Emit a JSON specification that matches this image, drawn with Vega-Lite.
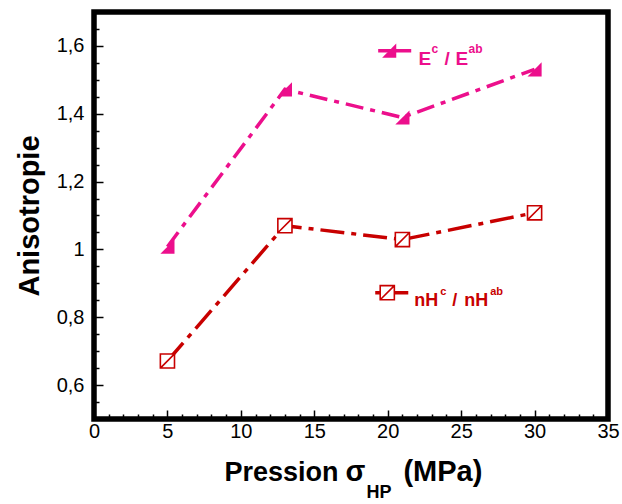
{
  "$schema": "https://vega.github.io/schema/vega-lite/v6.json",
  "width": 514,
  "height": 407,
  "autosize": {"type": "none"},
  "padding": {"left": 94, "top": 12, "right": 14, "bottom": 85},
  "config": {
    "view": {"stroke": "#000000", "strokeWidth": 5.5},
    "font": "Liberation Sans",
    "text": {"font": "Liberation Sans"}
  },
  "datasets": {
    "curves": [
      {"serie": "E", "p": 5, "a": 1.008},
      {"serie": "E", "p": 13, "a": 1.472},
      {"serie": "E", "p": 21, "a": 1.389},
      {"serie": "E", "p": 30, "a": 1.531},
      {"serie": "nH", "p": 5, "a": 0.671},
      {"serie": "nH", "p": 13, "a": 1.07},
      {"serie": "nH", "p": 21, "a": 1.029},
      {"serie": "nH", "p": 30, "a": 1.108}
    ],
    "legendLines": [
      {"serie": "E", "p": 19.35, "a": 1.586},
      {"serie": "E", "p": 21.6, "a": 1.586},
      {"serie": "nH", "p": 19.15, "a": 0.8725},
      {"serie": "nH", "p": 21.4, "a": 0.8725}
    ],
    "legendMarks": [
      {"serie": "E", "p": 20.1, "a": 1.586},
      {"serie": "nH", "p": 19.97, "a": 0.8725}
    ],
    "labels": [
      {"serie": "E", "p": 22.1, "a": 1.544},
      {"serie": "nH", "p": 21.8, "a": 0.834}
    ],
    "xtitle": [
      {"p": 8.88, "a": 0.317}
    ]
  },
  "encoding": {
    "x": {
      "field": "p", "type": "quantitative",
      "scale": {"domain": [0, 35], "nice": false, "zero": false},
      "axis": {
        "values": [0,1,2,3,4,5,6,7,8,9,10,11,12,13,14,15,16,17,18,19,20,21,22,23,24,25,26,27,28,29,30,31,32,33,34,35],
        "labelExpr": "datum.value % 5 === 0 ? datum.label : ''",
        "tickSize": {"condition": {"test": "datum.value % 5 === 0", "value": -9}, "value": -5},
        "tickColor": "#000000", "tickWidth": 1.5,
        "domain": false, "grid": false,
        "labelFontSize": 20, "labelColor": "#000000", "labelFont": "Liberation Sans",
        "labelPadding": 11, "labelOverlap": false, "labelFlush": false,
        "title": null
      }
    },
    "y": {
      "field": "a", "type": "quantitative",
      "scale": {"domain": [0.5, 1.7], "nice": false, "zero": false},
      "axis": {
        "values": [0.5,0.55,0.6,0.65,0.7,0.75,0.8,0.85,0.9,0.95,1,1.05,1.1,1.15,1.2,1.25,1.3,1.35,1.4,1.45,1.5,1.55,1.6,1.65,1.7],
        "labelExpr": "round(datum.value * 100) % 20 === 0 ? replace(format(datum.value, '~g'), '.', ',') : ''",
        "tickSize": {"condition": {"test": "round(datum.value * 100) % 20 === 0", "value": -9}, "value": -5},
        "tickColor": "#000000", "tickWidth": 1.5,
        "domain": false, "grid": false,
        "labelFontSize": 20, "labelColor": "#000000", "labelFont": "Liberation Sans",
        "labelPadding": 19, "labelOverlap": false, "labelFlush": false,
        "title": "Anisotropie",
        "titleFontSize": 29, "titleFontWeight": "bold", "titleColor": "#000000",
        "titleFont": "Liberation Sans", "titlePadding": 12
      }
    }
  },
  "layer": [
    {
      "data": {"name": "curves"},
      "transform": [{"filter": "datum.serie === 'E'"}],
      "mark": {"type": "line", "color": "#EC0F8C", "strokeWidth": 3.5, "strokeDash": [18, 7, 5, 7]}
    },
    {
      "data": {"name": "curves"},
      "transform": [{"filter": "datum.serie === 'nH'"}],
      "mark": {"type": "line", "color": "#C80000", "strokeWidth": 3.5, "strokeDash": [24, 7, 5, 7]}
    },
    {
      "data": {"name": "curves"},
      "transform": [{"filter": "datum.serie === 'E'"}],
      "mark": {"type": "point", "shape": "M1,-1L1,1L-1,1Z", "filled": true, "color": "#EC0F8C", "size": 200, "opacity": 1}
    },
    {
      "data": {"name": "curves"},
      "transform": [{"filter": "datum.serie === 'nH'"}],
      "mark": {"type": "point", "shape": "M-1,-1L1,-1L1,1L-1,1Z M-1,1L1,-1", "fill": "#ffffff", "stroke": "#C80000", "strokeWidth": 1.6, "size": 200, "opacity": 1, "fillOpacity": 1}
    },
    {
      "data": {"name": "legendLines"},
      "mark": {"type": "line", "strokeWidth": 3.5},
      "encoding": {
        "color": {"field": "serie", "type": "nominal", "scale": {"domain": ["E", "nH"], "range": ["#EC0F8C", "#C80000"]}, "legend": null}
      }
    },
    {
      "data": {"name": "legendMarks"},
      "transform": [{"filter": "datum.serie === 'E'"}],
      "mark": {"type": "point", "shape": "M1,-1L1,1L-1,1Z", "filled": true, "color": "#EC0F8C", "size": 200, "opacity": 1}
    },
    {
      "data": {"name": "legendMarks"},
      "transform": [{"filter": "datum.serie === 'nH'"}],
      "mark": {"type": "point", "shape": "M-1,-1L1,-1L1,1L-1,1Z M-1,1L1,-1", "fill": "#ffffff", "stroke": "#C80000", "strokeWidth": 1.6, "size": 200, "opacity": 1, "fillOpacity": 1}
    },
    {
      "data": {"name": "labels"},
      "transform": [{"filter": "datum.serie === 'E'"}],
      "mark": {"type": "text", "text": "E", "align": "left", "baseline": "alphabetic", "fontSize": 19, "fontWeight": "bold", "color": "#EC0F8C"}
    },
    {
      "data": {"name": "labels"},
      "transform": [{"filter": "datum.serie === 'E'"}],
      "mark": {"type": "text", "text": "c", "align": "left", "baseline": "alphabetic", "dx": 13, "dy": -12, "fontSize": 12, "fontWeight": "bold", "color": "#EC0F8C"}
    },
    {
      "data": {"name": "labels"},
      "transform": [{"filter": "datum.serie === 'E'"}],
      "mark": {"type": "text", "text": "/", "align": "left", "baseline": "alphabetic", "dx": 26, "fontSize": 19, "fontWeight": "bold", "color": "#EC0F8C"}
    },
    {
      "data": {"name": "labels"},
      "transform": [{"filter": "datum.serie === 'E'"}],
      "mark": {"type": "text", "text": "E", "align": "left", "baseline": "alphabetic", "dx": 37, "fontSize": 19, "fontWeight": "bold", "color": "#EC0F8C"}
    },
    {
      "data": {"name": "labels"},
      "transform": [{"filter": "datum.serie === 'E'"}],
      "mark": {"type": "text", "text": "ab", "align": "left", "baseline": "alphabetic", "dx": 50, "dy": -12, "fontSize": 12, "fontWeight": "bold", "color": "#EC0F8C"}
    },
    {
      "data": {"name": "labels"},
      "transform": [{"filter": "datum.serie === 'nH'"}],
      "mark": {"type": "text", "text": "nH", "align": "left", "baseline": "alphabetic", "fontSize": 18, "fontWeight": "bold", "color": "#C80000"}
    },
    {
      "data": {"name": "labels"},
      "transform": [{"filter": "datum.serie === 'nH'"}],
      "mark": {"type": "text", "text": "c", "align": "left", "baseline": "alphabetic", "dx": 26, "dy": -11, "fontSize": 11, "fontWeight": "bold", "color": "#C80000"}
    },
    {
      "data": {"name": "labels"},
      "transform": [{"filter": "datum.serie === 'nH'"}],
      "mark": {"type": "text", "text": "/", "align": "left", "baseline": "alphabetic", "dx": 38, "fontSize": 18, "fontWeight": "bold", "color": "#C80000"}
    },
    {
      "data": {"name": "labels"},
      "transform": [{"filter": "datum.serie === 'nH'"}],
      "mark": {"type": "text", "text": "nH", "align": "left", "baseline": "alphabetic", "dx": 50, "fontSize": 18, "fontWeight": "bold", "color": "#C80000"}
    },
    {
      "data": {"name": "labels"},
      "transform": [{"filter": "datum.serie === 'nH'"}],
      "mark": {"type": "text", "text": "ab", "align": "left", "baseline": "alphabetic", "dx": 76, "dy": -11, "fontSize": 11, "fontWeight": "bold", "color": "#C80000"}
    },
    {
      "data": {"name": "xtitle"},
      "mark": {"type": "text", "text": "Pression", "align": "left", "baseline": "alphabetic", "fontSize": 27, "fontWeight": "bold", "color": "#000000"}
    },
    {
      "data": {"name": "xtitle"},
      "mark": {"type": "text", "text": "σ", "align": "left", "baseline": "alphabetic", "dx": 121, "fontSize": 29, "fontWeight": "bold", "color": "#000000"}
    },
    {
      "data": {"name": "xtitle"},
      "mark": {"type": "text", "text": "HP", "align": "left", "baseline": "alphabetic", "dx": 142, "dy": 17, "fontSize": 18, "fontWeight": "bold", "color": "#000000"}
    },
    {
      "data": {"name": "xtitle"},
      "mark": {"type": "text", "text": "(MPa)", "align": "left", "baseline": "alphabetic", "dx": 179, "fontSize": 29, "fontWeight": "bold", "color": "#000000"}
    }
  ]
}
